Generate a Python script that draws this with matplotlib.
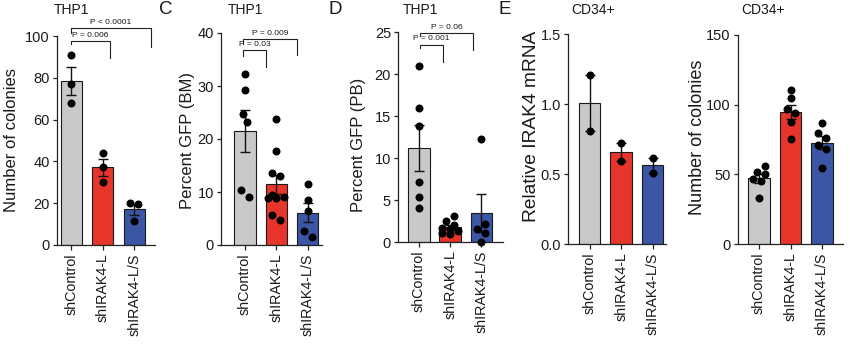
import numpy as np
import matplotlib
matplotlib.use("Agg")
import matplotlib.pyplot as plt

plt.rcParams['font.family'] = ['Liberation Sans', 'DejaVu Sans']

groups = ["shControl", "shIRAK4-L", "shIRAK4-L/S"]
bar_colors = ["#c9c9c9", "#e8352b", "#3c56a5"]

# THP1 colony counts
colonies_thp1 = [
    [91, 77, 68],
    [44, 37.3, 30.3],
    [20, 19.5, 11.5],
]
# THP1 engraftment, percent GFP in bone marrow
gfp_bm = [
    [32.3, 29.2, 24.7, 23.3, 10.3, 9.1],
    [23.7, 17.8, 13.6, 13.1, 9.5, 9.0, 8.8, 8.8, 5.7, 4.7],
    [11.5, 8.5, 6.4, 2.6, 1.6],
]
# THP1 engraftment, percent GFP in peripheral blood
gfp_pb = [
    [20.9, 16.0, 13.8, 7.1, 5.4, 4.0],
    [3.1, 2.5, 2.0, 1.7, 1.5, 1.3, 1.1, 0.9],
    [12.3, 2.1, 1.6, 1.1, 0.0],
]
# CD34+ cells, relative IRAK4 mRNA
irak4_mrna = [
    [1.21, 0.81],
    [0.72, 0.595],
    [0.617, 0.505],
]
# CD34+ cells, colony counts
colonies_cd34 = [
    [56, 52, 50, 47, 45, 33],
    [110.5, 104.5, 96.9, 93.8, 87.6, 75.4],
    [86.6, 79.5, 75.9, 71.1, 68.4, 54.8],
]

p_thp1 = ["P = 0.006", "P < 0.0001"]
p_bm = ["P = 0.03", "P = 0.009"]
p_pb = ["P = 0.001", "P = 0.06"]

W, H = 850, 344
fig = plt.figure(figsize=(W / 100, H / 100), dpi=100)
TXT = "#1a1a1a"
MARKER_PX = 8.0


def add_axes_px(l, r, t, b):
    return fig.add_axes([l / W, 1 - b / H, (r - l) / W, (b - t) / H])


def swarm_offsets(ax, xc, vals, d):
    """Horizontal offsets (data units) so dots sit side by side like a swarm."""
    vals = np.asarray(vals, float)
    pix = ax.transData.transform(np.column_stack([np.full(len(vals), xc), vals]))
    px_per_x = ax.transData.transform([(1, 0)])[0, 0] - ax.transData.transform([(0, 0)])[0, 0]
    order = np.argsort(vals)
    offs = np.zeros(len(vals))
    placed = []
    step = 0.5 * d
    thr = 0.95 * d
    for i in order:
        y = pix[i, 1]
        best, best_gap = 0.0, -1.0
        for k in [0, -1, 1, -2, 2]:
            x = k * step
            gap = min([np.hypot(x - px, y - py) for px, py in placed], default=np.inf)
            if gap >= thr:
                best = x
                break
            if gap > best_gap + 0.5:
                best, best_gap = x, gap
        offs[i] = best
        placed.append((best, y))
    # centre each run of overlapping rows on the bar
    run = [order[0]]
    runs = []
    for a, b in zip(order[:-1], order[1:]):
        if abs(pix[b, 1] - pix[a, 1]) < thr:
            run.append(b)
        else:
            runs.append(run)
            run = [b]
    runs.append(run)
    for r in runs:
        shift = (offs[r].max() + offs[r].min()) / 2
        offs[r] -= shift
    return offs / px_per_x


def draw_panel(p):
    l, r, t, b = p["box"]
    ax = add_axes_px(l, r, t, b)
    c0, sp = p["c0"], p["sp"]
    ax.set_xlim((l - c0) / sp, (r - c0) / sp)
    ax.set_ylim(0, p["ymax"])
    data = p["data"]
    xs = np.arange(len(groups))
    means = [np.mean(v) for v in data]
    sems = [np.std(v, ddof=1) / np.sqrt(len(v)) for v in data]
    ax.bar(xs, means, width=21.3 / sp, color=bar_colors, edgecolor="#1a1a1a",
           linewidth=0.8, zorder=2)
    ax.errorbar(xs, means, yerr=sems, fmt="none", ecolor="#111111", elinewidth=1.0,
                capsize=3.3, capthick=1.0, zorder=3)
    for i, vals in enumerate(data):
        dx = swarm_offsets(ax, i, vals, MARKER_PX)
        ax.scatter(i + dx, vals, s=(MARKER_PX * 0.72) ** 2, color="black", linewidths=0,
                   zorder=4, clip_on=False)
    for side in ("top", "right"):
        ax.spines[side].set_visible(False)
    for side in ("left", "bottom"):
        ax.spines[side].set_linewidth(0.9)
        ax.spines[side].set_color("#222222")
    ticks = np.arange(0, p["ymax"] + p["ystep"] / 2, p["ystep"])
    ax.set_yticks(ticks)
    ax.set_yticklabels([p["fmt"].format(v) for v in ticks], fontsize=10.5, color=TXT)
    ax.set_xticks(xs)
    ax.set_xticklabels(groups, rotation=90, fontsize=10.3, color=TXT)
    ax.tick_params(axis="y", length=3, width=0.9, pad=2, color="#222222")
    ax.tick_params(axis="x", length=3.5, width=0.9, pad=2.5, color="#222222")
    fig.text(p["ylabel_xy"][0] / W, 1 - p["ylabel_xy"][1] / H, p["ylabel"], rotation=90,
             ha="center", va="center", fontsize=p["ylabel_size"], color=TXT)
    fig.text(p["title_x"] / W, 1 - 10.5 / H, p["title"], ha="center", va="center",
             fontsize=10, color=TXT)
    if p.get("letter"):
        fig.text(p["letter_x"] / W, 1 - 0.5 / H, p["letter"], ha="left", va="top",
                 fontsize=13.5, color=TXT)
    for (x0, x1, y, y0, y1), label in zip(p.get("brackets", []), p.get("plabels", [])):
        ax.plot([x0, x0, x1, x1], [y0, y, y, y1], color="#222222", lw=0.8,
                clip_on=False, zorder=5)
        ax.annotate(label, xy=((x0 + x1) / 2, y), xytext=(0, 4.1), textcoords="offset points",
                    ha="center", va="center", fontsize=6, color=TXT, annotation_clip=False)
    return ax


panels = [
    dict(data=colonies_thp1, ymax=100, ystep=20, fmt="{:.0f}",
         ylabel="Number of colonies", ylabel_size=12, ylabel_xy=(11.7, 140),
         title="THP1", title_x=71.7, box=(56.7, 155, 36, 245), c0=71.2, sp=31.5,
         brackets=[(0.0, 1.23, 97.6, 96.2, 89.3), (0.0, 2.52, 103.7, 101.3, 94.9)],
         plabels=p_thp1),
    dict(data=gfp_bm, ymax=40, ystep=10, fmt="{:.0f}",
         ylabel="Percent GFP (BM)", ylabel_size=12, ylabel_xy=(187.5, 140),
         title="THP1", title_x=245, box=(221, 322, 33, 245), c0=245, sp=31.25,
         letter="C", letter_x=159,
         brackets=[(-0.07, 0.67, 36.7, 35.66, 33.64), (-0.07, 1.65, 38.87, 37.9, 35.85)],
         plabels=p_bm),
    dict(data=gfp_pb, ymax=25, ystep=5, fmt="{:.0f}",
         ylabel="Percent GFP (PB)", ylabel_size=12, ylabel_xy=(359, 145),
         title="THP1", title_x=420, box=(398, 502.5, 32, 242), c0=419, sp=31.1,
         letter="D", letter_x=329,
         brackets=[(0.03, 0.78, 23.5, 23.06, 21.46), (0.03, 1.75, 24.88, 24.52, 22.86)],
         plabels=p_pb),
    dict(data=irak4_mrna, ymax=1.5, ystep=0.5, fmt="{:.1f}",
         ylabel="Relative IRAK4 mRNA", ylabel_size=13.8, ylabel_xy=(531, 126),
         title="CD34+", title_x=593, box=(568, 665.5, 34, 244), c0=589.7, sp=31.4,
         letter="E", letter_x=499),
    dict(data=colonies_cd34, ymax=150, ystep=50, fmt="{:.0f}",
         ylabel="Number of colonies", ylabel_size=13, ylabel_xy=(697.5, 137.5),
         title="CD34+", title_x=763, box=(737.7, 842.5, 35, 244), c0=759, sp=31.5),
]

for p in panels:
    draw_panel(p)

fig.savefig("out.png", dpi=100, facecolor="white")
